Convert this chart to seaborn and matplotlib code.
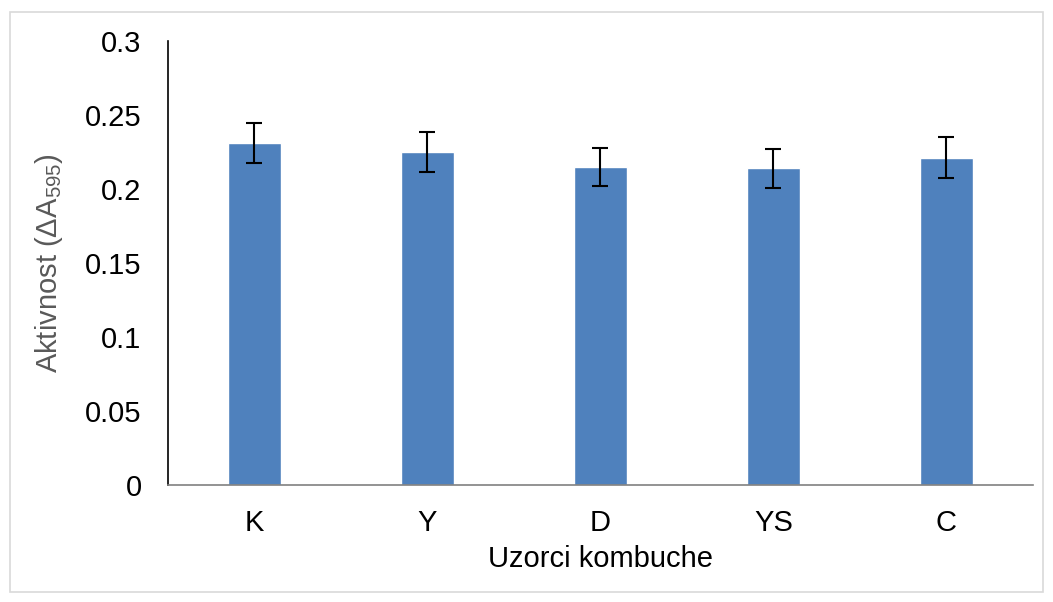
import matplotlib
matplotlib.use("Agg")
import matplotlib.pyplot as plt
import seaborn as sns
import pandas as pd
from matplotlib.patches import Rectangle

# Podaci
uzorci = ["K", "Y", "D", "YS", "C"]
aktivnost = [0.231, 0.225, 0.215, 0.214, 0.221]
greska = [0.0137, 0.0133, 0.013, 0.013, 0.0138]

df = pd.DataFrame({"uzorak": uzorci, "aktivnost": aktivnost})

sns.set_theme(style="white")
plt.rcParams["font.family"] = ["Liberation Sans", "DejaVu Sans"]
plt.rcParams["mathtext.fontset"] = "custom"
plt.rcParams["mathtext.rm"] = "Liberation Sans"

fig = plt.figure(figsize=(10.53, 6.02), dpi=100)
ax = fig.add_axes([0.1595, 0.1944, 0.8215, 0.7375])

sns.barplot(data=df, x="uzorak", y="aktivnost", color="#4f81bd", saturation=1,
            width=0.31, errorbar=None, ax=ax)
ax.errorbar(range(len(uzorci)), aktivnost, yerr=greska, fmt="none",
            ecolor="black", elinewidth=1.5, capsize=6, capthick=1.5)

ax.set_ylim(0, 0.3)
ax.set_xlim(-0.5, len(uzorci) - 0.5)
ax.set_yticks([0, 0.05, 0.1, 0.15, 0.2, 0.25, 0.3])
ax.set_yticklabels(["0", "0.05", "0.1", "0.15", "0.2", "0.25", "0.3"])
ax.tick_params(axis="both", length=0, labelsize=21, colors="black")
ax.tick_params(axis="y", pad=19)
ax.tick_params(axis="x", pad=17)

ax.set_xlabel("Uzorci kombuche", fontsize=21, color="black", labelpad=6)
ax.set_ylabel(r"Aktivnost ($\Delta$A$_{595}$)", fontsize=21, color="#595959", labelpad=14)

for s in ["top", "right"]:
    ax.spines[s].set_visible(False)
ax.spines["left"].set_color("black")
ax.spines["left"].set_linewidth(1.2)
ax.spines["bottom"].set_color("#808080")
ax.spines["bottom"].set_linewidth(1.2)

# okvir oko slike
fig.patches.append(Rectangle((10 / 1053, 10 / 602), 1033 / 1053, 580 / 602,
                             transform=fig.transFigure, fill=False,
                             edgecolor="#d9d9d9", linewidth=1.2))

fig.savefig("out.png", dpi=100)
